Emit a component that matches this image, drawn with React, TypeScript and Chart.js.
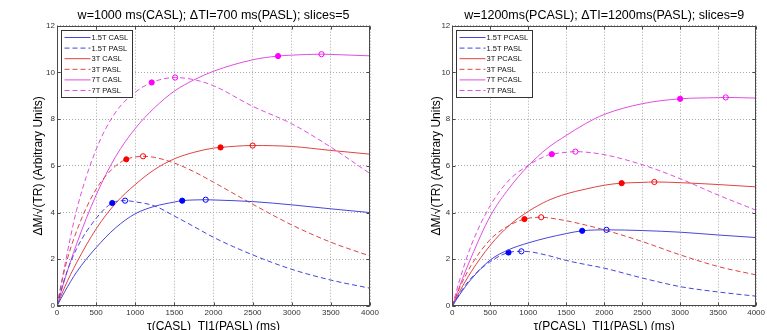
import React, { useEffect, useRef } from "react";
import { Chart, registerables } from "chart.js";

Chart.register(...registerables);

const FAMILY = "'Liberation Sans', Arial, Helvetica, sans-serif";

// shared sample positions (ms)
const XS = [0, 100, 250, 500, 750, 1000, 1250, 1500, 1750, 2000, 2500, 3000, 3500, 4000];

// ---------- left panel: w=1000 ms (CASL), dTI=700 ms (PASL), slices=5 ----------
const L_TITLE = "w=1000 ms(CASL); \u0394TI=700 ms(PASL); slices=5";
const L_XLABEL = "\u03c4(CASL)  TI1(PASL) (ms)";
const L_LABELS = ["1.5T CASL", "1.5T PASL", "3T CASL", "3T PASL", "7T CASL", "7T PASL"];
const L_CASL15 = [0, 0.62, 1.45, 2.5, 3.35, 3.95, 4.27, 4.45, 4.54, 4.54, 4.47, 4.33, 4.16, 4.0];
const L_PASL15 = [0, 1.2, 2.45, 3.75, 4.44, 4.46, 4.28, 3.85, 3.4, 2.94, 2.19, 1.57, 1.11, 0.76];
const L_CASL3 = [0, 0.82, 1.85, 3.3, 4.4, 5.2, 5.85, 6.3, 6.58, 6.76, 6.87, 6.83, 6.66, 6.5];
const L_PASL3 = [0, 1.6, 3.2, 5.0, 6.0, 6.38, 6.36, 6.12, 5.75, 5.3, 4.36, 3.47, 2.73, 2.14];
const L_CASL7 = [0, 1.15, 2.65, 4.75, 6.4, 7.6, 8.5, 9.2, 9.68, 10.05, 10.54, 10.74, 10.77, 10.71];
const L_PASL7 = [0, 1.75, 4.1, 6.7, 8.3, 9.15, 9.6, 9.77, 9.69, 9.43, 8.55, 7.8, 6.8, 5.67];
const L_FILLED_X = [1600, 706, 2090, 886, 2825, 1210];
const L_FILLED_Y = [4.51, 4.41, 6.79, 6.28, 10.7, 9.57];
const L_OPEN_X = [1900, 870, 2500, 1100, 3380, 1510];
const L_OPEN_Y = [4.55, 4.51, 6.87, 6.41, 10.78, 9.78];

// ---------- right panel: w=1200 ms (PCASL), dTI=1200 ms (PASL), slices=9 ----------
const R_TITLE = "w=1200ms(PCASL); \u0394TI=1200ms(PASL); slices=9";
const R_XLABEL = "\u03c4(PCASL)  TI1(PASL) (ms)";
const R_LABELS = ["1.5T PCASL", "1.5T PASL", "3T PCASL", "3T PASL", "7T PCASL", "7T PASL"];
const R_CASL15 = [0, 0.5, 1.15, 1.97, 2.42, 2.7, 2.92, 3.1, 3.2, 3.25, 3.23, 3.16, 3.04, 2.93];
const R_PASL15 = [0, 0.55, 1.2, 1.9, 2.28, 2.33, 2.17, 1.95, 1.78, 1.62, 1.2, 0.83, 0.6, 0.42];
const R_CASL3 = [0, 0.64, 1.47, 2.6, 3.45, 4.05, 4.5, 4.8, 5.0, 5.17, 5.29, 5.28, 5.2, 5.1];
const R_PASL3 = [0, 0.8, 1.75, 2.85, 3.45, 3.74, 3.78, 3.65, 3.47, 3.26, 2.76, 2.19, 1.69, 1.33];
const R_CASL7 = [0, 0.88, 2.09, 3.85, 5.05, 6.0, 6.75, 7.3, 7.8, 8.2, 8.66, 8.88, 8.92, 8.9];
const R_PASL7 = [0, 1.15, 2.6, 4.3, 5.4, 6.02, 6.45, 6.58, 6.59, 6.48, 6.05, 5.45, 4.75, 4.1];
const R_FILLED_X = [1710, 740, 2230, 950, 3000, 1310];
const R_FILLED_Y = [3.22, 2.29, 5.26, 3.72, 8.87, 6.5];
const R_OPEN_X = [2030, 910, 2660, 1170, 3600, 1620];
const R_OPEN_Y = [3.26, 2.34, 5.31, 3.8, 8.93, 6.61];

const Y_LABEL = "\u0394M/\u221a(TR) (Arbitrary Units)";
const X_MIN = 0, X_MAX = 4000, X_STEP = 500;
const Y_MIN = 0, Y_MAX = 12, Y_STEP = 2;

const LINE_COLORS = ["#4646dc", "#4646dc", "#de4444", "#de4444", "#e04ee0", "#e04ee0"];
const MARK_COLORS = ["#0000ff", "#0000ff", "#ff0000", "#ff0000", "#ff00ff", "#ff00ff"];
const DASHES = [[], [5, 3], [], [5, 3], [], [5, 3]];

type Pt = { x: number; y: number; m: string };

function buildSeries(vals: number[], fx: number, fy: number, ox: number, oy: number): Pt[] {
  const pts: Pt[] = XS.map((x, i) => ({ x, y: vals[i], m: "" })).filter(
    (p) => Math.abs(p.x - fx) >= 60 && Math.abs(p.x - ox) >= 60
  );
  pts.push({ x: fx, y: fy, m: "f" }, { x: ox, y: oy, m: "o" });
  pts.sort((a, b) => a.x - b.x);
  return pts;
}

type PanelSpec = {
  title: string;
  xLabel: string;
  labels: string[];
  series: number[][];
  fx: number[];
  fy: number[];
  ox: number[];
  oy: number[];
  width: number;
  areaLeft: number;
  areaRight: number;
  yTitleCenter: number;
};

const decorPlugin = {
  id: "decor",
  afterDatasetsDraw(chart: any) {
    const spec: PanelSpec = chart.options.plugins.decor.spec;
    const ctx = chart.ctx;
    const { left, right, top, bottom } = chart.chartArea;
    ctx.save();
    // axes box
    ctx.strokeStyle = "#4a4a4a";
    ctx.lineWidth = 1;
    ctx.setLineDash([]);
    const L = Math.round(left) + 0.5, R = Math.round(right) - 0.5;
    const T = Math.round(top) + 0.5, B = Math.round(bottom) - 0.5;
    ctx.strokeRect(L, T, R - L, B - T);
    // inward tick marks
    const xs = chart.scales.x, ys = chart.scales.y;
    ctx.beginPath();
    xs.ticks.forEach((t: any) => {
      const px = Math.round(xs.getPixelForValue(t.value)) + 0.5;
      ctx.moveTo(px, B); ctx.lineTo(px, B - 3);
      ctx.moveTo(px, T); ctx.lineTo(px, T + 3);
    });
    ys.ticks.forEach((t: any) => {
      const py = Math.round(ys.getPixelForValue(t.value)) + 0.5;
      ctx.moveTo(L, py); ctx.lineTo(L + 3, py);
      ctx.moveTo(R, py); ctx.lineTo(R - 3, py);
    });
    ctx.stroke();

    // legend inside the axes, top-left
    ctx.font = `7.5px ${FAMILY}`;
    const tw = Math.max(...spec.labels.map((l) => ctx.measureText(l).width));
    const bx = Math.round(left + 4) + 0.5;
    const by = Math.round(top + 4) + 0.5;
    const bw = Math.round(4 + 26 + 1 + tw + 3);
    const bh = 67;
    ctx.fillStyle = "#ffffff";
    ctx.fillRect(bx, by, bw, bh);
    ctx.strokeStyle = "#333333";
    ctx.strokeRect(bx, by, bw, bh);
    chart.data.datasets.forEach((ds: any, i: number) => {
      const y = by + 7 + i * 10.6;
      ctx.strokeStyle = ds.borderColor;
      ctx.lineWidth = 1;
      ctx.setLineDash(ds.borderDash || []);
      ctx.beginPath();
      ctx.moveTo(bx + 3, y);
      ctx.lineTo(bx + 29, y);
      ctx.stroke();
      ctx.setLineDash([]);
      ctx.fillStyle = "#111111";
      ctx.textAlign = "left";
      ctx.textBaseline = "middle";
      ctx.fillText(spec.labels[i], bx + 30, y + 0.5);
    });

    // title centred over the axes
    ctx.font = `12.5px ${FAMILY}`;
    ctx.fillStyle = "#000000";
    ctx.textAlign = "center";
    ctx.textBaseline = "middle";
    ctx.fillText(spec.title, (left + right) / 2, 15.5);
    ctx.restore();
  },
};

function Panel({ spec, style }: { spec: PanelSpec; style: React.CSSProperties }) {
  const ref = useRef<HTMLCanvasElement | null>(null);
  useEffect(() => {
    if (!ref.current) return;
    const datasets = spec.series.map((vals, i) => ({
      label: spec.labels[i],
      data: buildSeries(vals, spec.fx[i], spec.fy[i], spec.ox[i], spec.oy[i]),
      borderColor: LINE_COLORS[i],
      borderDash: DASHES[i],
      borderWidth: 1,
      fill: false,
      cubicInterpolationMode: "monotone" as const,
      pointRadius: (c: any) => (c.raw && c.raw.m ? 2.6 : 0),
      pointHoverRadius: 0,
      pointBorderWidth: 1,
      pointBorderColor: MARK_COLORS[i],
      pointBackgroundColor: (c: any) => (c.raw && c.raw.m === "f" ? MARK_COLORS[i] : "rgba(0,0,0,0)"),
    }));
    const chart = new Chart(ref.current, {
      type: "line",
      data: { datasets },
      plugins: [decorPlugin],
      options: {
        animation: false,
        responsive: false,
        parsing: false as any,
        layout: {
          autoPadding: false,
          padding: { left: 0, right: spec.width - spec.areaRight, top: 25.7, bottom: 0 },
        },
        plugins: {
          legend: { display: false },
          title: { display: false },
          tooltip: { enabled: false },
          decor: { spec },
        } as any,
        scales: {
          x: {
            type: "linear",
            min: X_MIN,
            max: X_MAX,
            ticks: {
              stepSize: X_STEP, autoSkip: false, maxRotation: 0, padding: 2, color: "#333",
              font: { size: 8, family: FAMILY },
              callback: (v: any) => String(v),
            },
            grid: { color: "#a8a8a8", lineWidth: 1, drawTicks: false },
            border: { display: false, dash: [1, 2] },
            title: { display: true, text: spec.xLabel, color: "#000", font: { size: 12, family: FAMILY }, padding: { top: 0, bottom: -3.5 } },
            afterFit: (s: any) => { s.height = 24; },
          },
          y: {
            type: "linear",
            min: Y_MIN,
            max: Y_MAX,
            ticks: {
              stepSize: Y_STEP, padding: 2, color: "#333",
              font: { size: 8, family: FAMILY },
              callback: (v: any) => String(v),
            },
            grid: { color: "#a8a8a8", lineWidth: 1, drawTicks: false },
            border: { display: false, dash: [1, 2] },
            title: { display: true, text: Y_LABEL, color: "#000", font: { size: 12, family: FAMILY }, padding: { top: spec.yTitleCenter - 7.2, bottom: 0 } },
            afterFit: (s: any) => { s.width = spec.areaLeft; },
          },
        },
      } as any,
    });
    return () => chart.destroy();
  }, [spec]);
  return <canvas ref={ref} width={spec.width} height={330} style={{ position: "absolute", top: 0, ...style }} />;
}

const LEFT_SPEC: PanelSpec = {
  title: L_TITLE,
  xLabel: L_XLABEL,
  labels: L_LABELS,
  series: [L_CASL15, L_PASL15, L_CASL3, L_PASL3, L_CASL7, L_PASL7],
  fx: L_FILLED_X, fy: L_FILLED_Y, ox: L_OPEN_X, oy: L_OPEN_Y,
  width: 384,
  areaLeft: 57,
  areaRight: 370,
  yTitleCenter: 38.8,
};

const RIGHT_SPEC: PanelSpec = {
  title: R_TITLE,
  xLabel: R_XLABEL,
  labels: R_LABELS,
  series: [R_CASL15, R_PASL15, R_CASL3, R_PASL3, R_CASL7, R_PASL7],
  fx: R_FILLED_X, fy: R_FILLED_Y, ox: R_OPEN_X, oy: R_OPEN_Y,
  width: 383,
  areaLeft: 68.3,
  areaRight: 381,
  yTitleCenter: 52.5,
};

export default function App() {
  return (
    <div style={{ position: "fixed", left: 0, top: 0, width: 767, height: 330, overflow: "hidden", background: "#fff" }}>
      <Panel spec={LEFT_SPEC} style={{ left: 0 }} />
      <Panel spec={RIGHT_SPEC} style={{ left: 384 }} />
    </div>
  );
}
